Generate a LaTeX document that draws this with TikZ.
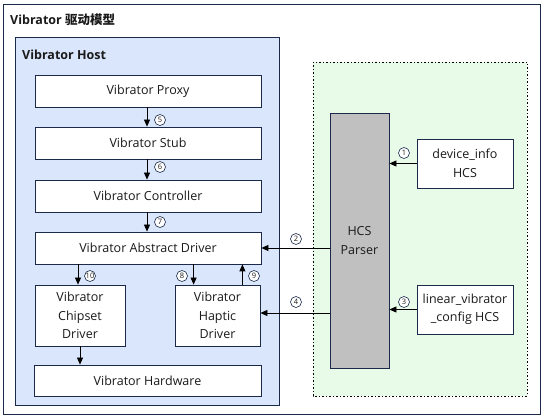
\documentclass[tikz,border=0pt]{standalone}
\usepackage{fontspec}
\setmainfont{Open Sans}
\newfontfamily\cjk{Noto Sans CJK SC}
\usetikzlibrary{arrows.meta,calc}
\definecolor{navy}{HTML}{1C2A4A}
\definecolor{hostfill}{HTML}{DAE6FC}
\definecolor{greenfill}{HTML}{E8FAE8}
\definecolor{parsergray}{HTML}{C0C0C0}
\definecolor{txt}{HTML}{1A1A1A}
\tikzset{
  box/.style={draw=navy, line width=0.8pt, fill=white, text=txt, font=\fontsize{12.5}{18.5}\selectfont, align=center, inner sep=0pt},
  arr/.style={draw=black, line width=0.8pt, -{Triangle[length=7pt,width=6pt]}},
  num/.style={circle, draw=navy, line width=0.6pt, fill=white, inner sep=0pt, minimum size=11pt, font=\fontsize{7.5}{8}\selectfont, text=txt},
}
\begin{document}
\begin{tikzpicture}[x=1pt,y=-1pt]
\useasboundingbox (0,0) rectangle (544,419);
% outer
\draw[navy, line width=0.8pt, fill=white] (3,4) rectangle (540,414);
\node[anchor=west, font=\fontsize{12.5}{14}\selectfont\bfseries, text=txt, inner sep=0pt] (title) at (10,20) {Vibrator {\cjk\bfseries 驱动模型}};
% host
\draw[navy, line width=0.8pt, fill=hostfill] (15.5,37) rectangle (279,405);
\node[anchor=west, font=\fontsize{12.5}{14}\selectfont\bfseries, text=txt, inner sep=0pt] (hosttitle) at (22,55) {Vibrator Host};
% green
\draw[black, line width=0.8pt, dash pattern=on 1.5pt off 2pt, fill=greenfill] (313,62) rectangle (527,396);
% boxes
\node[box, minimum width=226pt, minimum height=32pt] (proxy) at (148,91) {Vibrator Proxy};
\node[box, minimum width=226pt, minimum height=32pt] (stub) at (148,143) {Vibrator Stub};
\node[box, minimum width=226pt, minimum height=32pt] (ctrl) at (148,196) {Vibrator Controller};
\node[box, minimum width=226pt, minimum height=32pt] (abs) at (148,248) {Vibrator Abstract Driver};
\node[box, minimum width=90pt, minimum height=61pt] (chip) at (80,315.5) {Vibrator\\Chipset\\Driver};
\node[box, minimum width=85pt, minimum height=61pt] (hap) at (217.5,315.5) {Vibrator\\Haptic\\Driver};
\node[box, minimum width=227pt, minimum height=31pt] (hw) at (147.5,380.5) {Vibrator Hardware};
\node[box, fill=parsergray, minimum width=59pt, minimum height=255pt] (parser) at (359.5,240.5) {HCS\\Parser};
\node[box, minimum width=96pt, minimum height=49pt] (dev) at (465,163.5) {device\_info\\HCS};
\node[box, minimum width=96pt, minimum height=49pt] (lin) at (465,309.5) {linear\_vibrator\\\_config HCS};
% arrows
\draw[arr] ([xshift=-1pt]proxy.south) -- ([xshift=-1pt]stub.north);
\draw[arr] ([xshift=-1pt]stub.south) -- ([xshift=-1pt]ctrl.north);
\draw[arr] ([xshift=-1pt]ctrl.south) -- ([xshift=-1pt]abs.north);
\draw[arr] ([xshift=-2pt]chip.north |- abs.south) -- ([xshift=-2pt]chip.north);
\draw[arr] ([xshift=19pt]hap.north west |- abs.south) -- ([xshift=19pt]hap.north west);
\draw[arr] ([xshift=-18pt]hap.north east) -- ([xshift=-18pt]hap.north east |- abs.south);
\draw[arr] (chip.south) -- (chip.south |- hw.north);
\draw[arr] (parser.west |- abs.east) -- (abs.east);
\coordinate (h4) at ([yshift=2.5pt]hap.east);
\draw[arr] (parser.west |- h4) -- (h4);
\draw[arr] (dev.west) -- (parser.east |- dev.west);
\draw[arr] (lin.west) -- (parser.east |- lin.west);
% numbers
\node[num] (n1) at (404,153) {1};
\node[num] (n2) at (296,239) {2};
\node[num] (n3) at (404,302) {3};
\node[num] (n4) at (296,302) {4};
\node[num] (n5) at (160,120) {5};
\node[num] (n6) at (160,167) {6};
\node[num] (n7) at (160,222) {7};
\node[num] (n8) at (182,276) {8};
\node[num] (n9) at (254,276) {9};
\node[num] (n10) at (90,276) {10};
\end{tikzpicture}
\end{document}
